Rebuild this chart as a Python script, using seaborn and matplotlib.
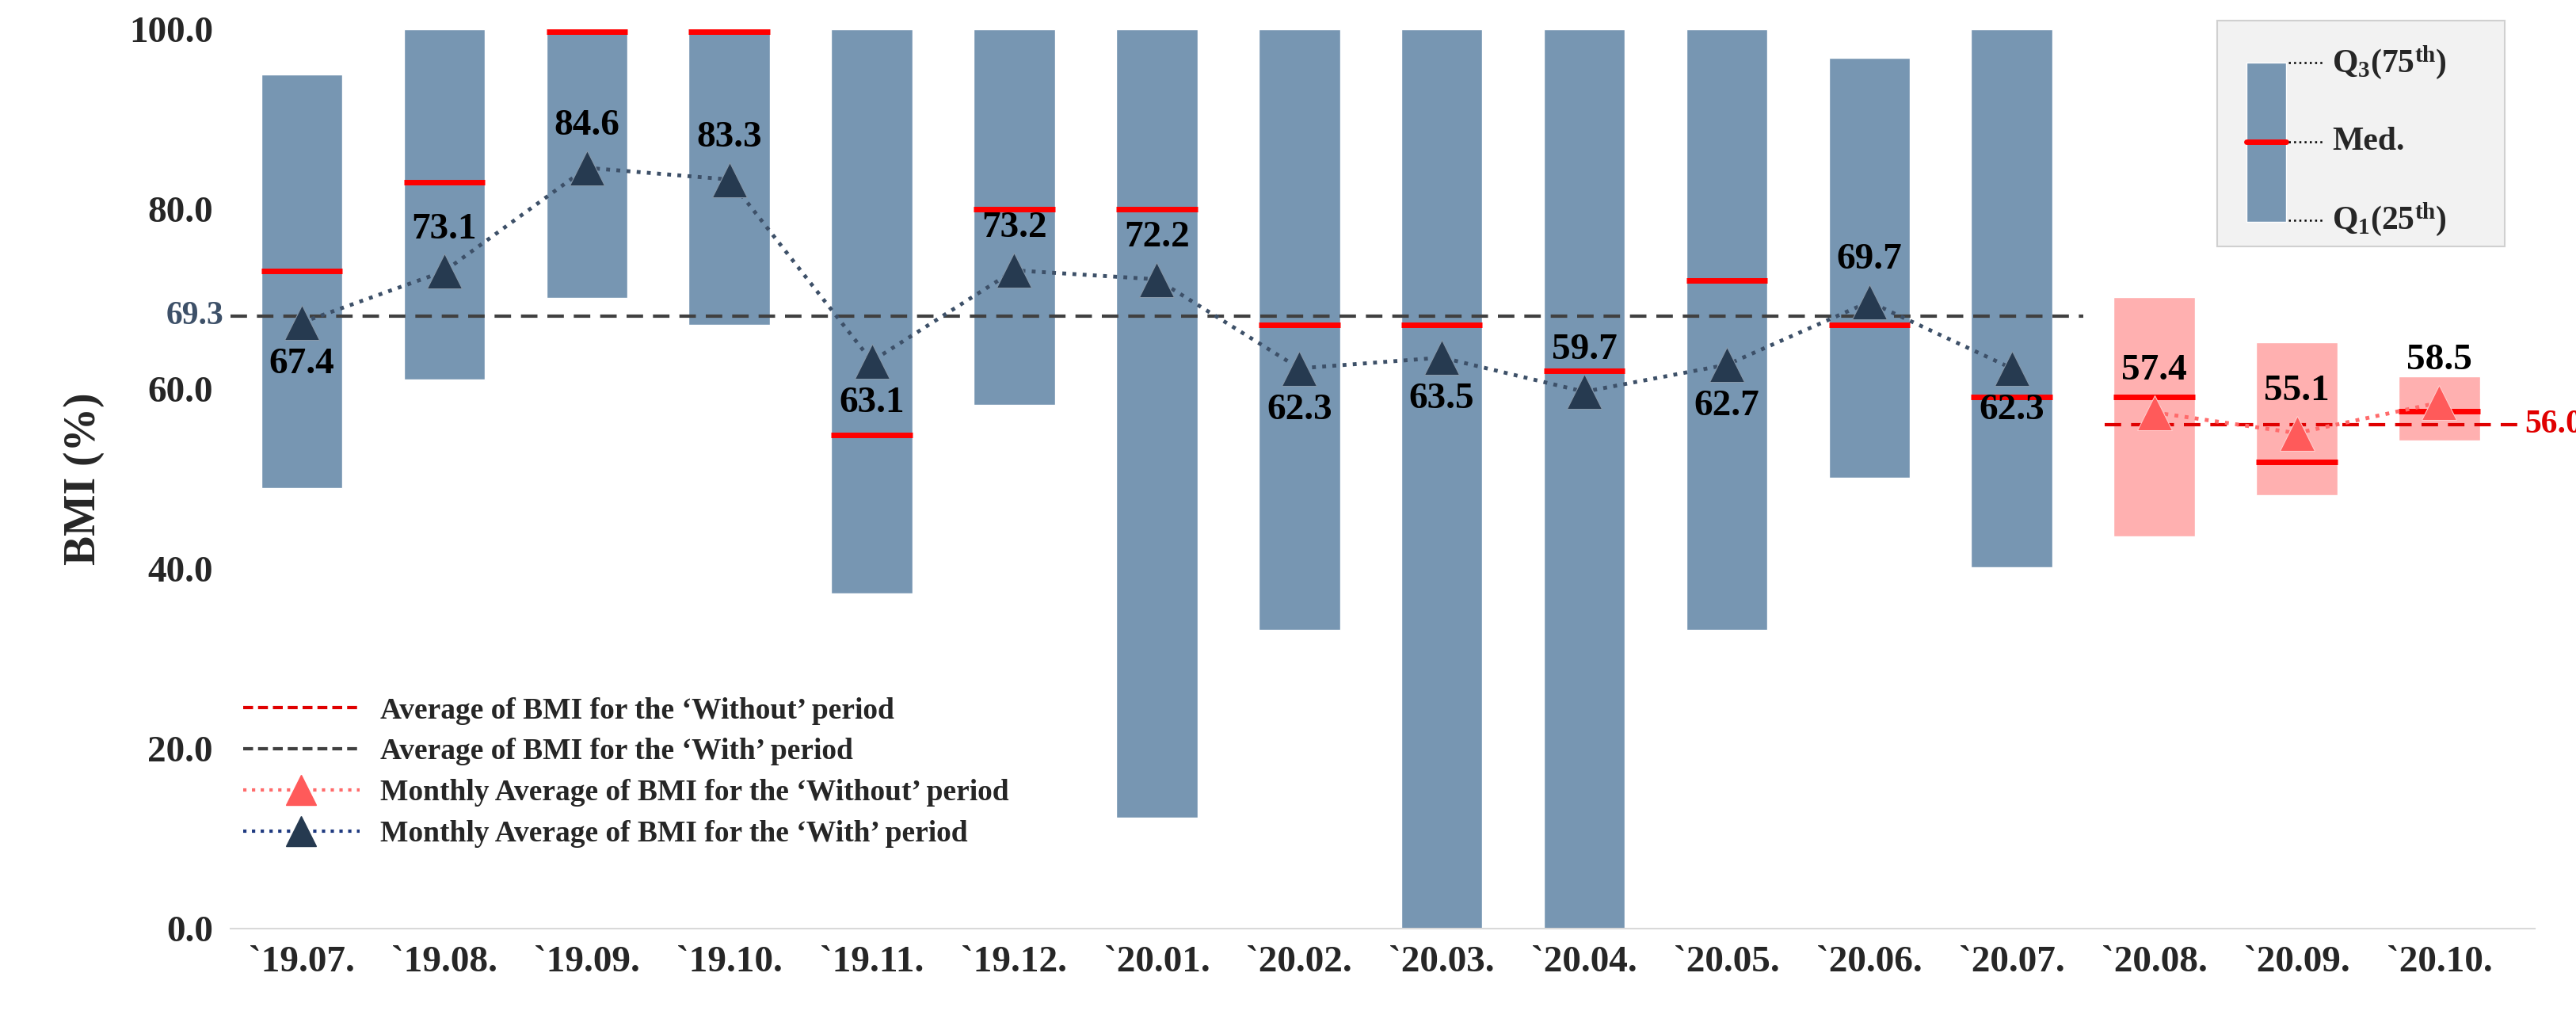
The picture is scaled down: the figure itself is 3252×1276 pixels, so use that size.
import numpy as np
import pandas as pd
import matplotlib
matplotlib.use("Agg")
import matplotlib.pyplot as plt
import seaborn as sns
from matplotlib.lines import Line2D
from matplotlib.patches import Rectangle

# data
months = ["`19.07.", "`19.08.", "`19.09.", "`19.10.", "`19.11.", "`19.12.", "`20.01.", "`20.02.",
          "`20.03.", "`20.04.", "`20.05.", "`20.06.", "`20.07.", "`20.08.", "`20.09.", "`20.10."]
q1 = [49.0, 61.1, 70.1, 67.1, 37.3, 58.2, 12.3, 33.2, 0.0, 0.0, 33.2, 50.1, 40.2, 43.6, 48.2, 54.3]
q3 = [95.0, 100, 100, 100, 100, 100, 100, 100, 100, 100, 100, 96.8, 100, 70.2, 65.2, 61.4]
med = [73.1, 83.0, 99.7, 99.7, 54.9, 80.0, 80.0, 67.1, 67.1, 62.0, 72.1, 67.1, 59.1, 59.1, 51.9, 57.5]
means = [67.4, 73.1, 84.6, 83.3, 63.1, 73.2, 72.2, 62.3, 63.5, 59.7, 62.7, 69.7, 62.3, 57.4, 55.1, 58.5]
label_above = [False, True, True, True, False, True, True, False, False, True, False, True, False, True, True, True]
n_with = 13
avg_with = 69.3
avg_with_drawn = 68.1
avg_without = 56.0

sns.set_theme(style="white")
plt.rcParams['font.family'] = ['Liberation Serif', 'DejaVu Serif']
plt.rcParams['font.weight'] = 'bold'
plt.rcParams['axes.labelweight'] = 'bold'
plt.rcParams['mathtext.fontset'] = 'custom'
plt.rcParams['mathtext.rm'] = 'Liberation Serif:bold'
plt.rcParams['mathtext.it'] = 'Liberation Serif:bold'

BLUE = '#7796b2'
PINK = '#ffb0b0'
DARK = '#263a50'
RED_TRI = '#ff5a5a'

fig = plt.figure(figsize=(32.52, 12.76), dpi=100)
ax = fig.add_axes([0.0895, 0.0815, 0.8945, 0.8895])

x = np.arange(len(months))
colors = [BLUE] * n_with + [PINK] * (len(months) - n_with)
ax.bar(x, np.array(q3) - np.array(q1), bottom=q1, width=0.57, color=colors, zorder=1)
ax.hlines(med, x - 0.285, x + 0.285, color='#ff0000', lw=5, zorder=2)

# average lines
ax.plot([-0.5, 12.5], [avg_with_drawn, avg_with_drawn], ls=(0, (5, 3)), color='#404040', lw=3, zorder=3)
ax.plot([12.65, 15.57], [avg_without, avg_without], ls=(0, (5, 3)), color='#e00000', lw=3, zorder=3)
ax.text(-0.55, avg_with_drawn, f"{avg_with:.1f}", ha='right', va='center', fontsize=30, color='#3d5068')
ax.text(15.6, avg_without, f"{avg_without:.1f}", ha='left', va='center', fontsize=30, color='#e00000')

df = pd.DataFrame({'x': x, 'mean': means})
sns.lineplot(data=df.iloc[:n_with], x='x', y='mean', ax=ax, color='#3d5068', ls=':', lw=3.5,
             marker='^', markersize=32, markerfacecolor=DARK, markeredgecolor='#8899aa', zorder=5)
sns.lineplot(data=df.iloc[n_with:], x='x', y='mean', ax=ax, color='#ff6b6b', ls=':', lw=3.5,
             marker='^', markersize=32, markerfacecolor=RED_TRI, markeredgecolor='#ffcccc', zorder=5)

for xi, m, up in zip(x, means, label_above):
    ax.text(xi, m + (2.8 if up else -2.8), f"{m:.1f}", ha='center', va='bottom' if up else 'top',
            fontsize=34, color='black', zorder=6)

ax.set_xlim(-0.5, 15.67)
ax.set_ylim(0, 100)
ax.set_xticks(x)
ax.set_xticklabels(months, fontsize=34)
ax.set_yticks([0, 20, 40, 60, 80, 100])
ax.set_yticklabels([f"{v:.1f}" for v in [0, 20, 40, 60, 80, 100]], fontsize=34)
ax.tick_params(axis='both', length=0, pad=16)
ax.set_xlabel('')
ax.set_ylabel('BMI (%)', fontsize=40, fontweight='bold', labelpad=22)
for s in ['top', 'right', 'left']:
    ax.spines[s].set_visible(False)
ax.spines['bottom'].set_color('#d9d9d9')
ax.spines['bottom'].set_linewidth(1.5)

handles = [
    Line2D([], [], color='#e00000', ls=(0, (3, 1.5)), lw=3),
    Line2D([], [], color='#404040', ls=(0, (3, 1.5)), lw=3),
    Line2D([], [], color='#ff6b6b', ls=':', lw=3, marker='^', markersize=28, markerfacecolor=RED_TRI, markeredgecolor=RED_TRI),
    Line2D([], [], color='#1f3a80', ls=':', lw=3, marker='^', markersize=28, markerfacecolor=DARK, markeredgecolor=DARK),
]
labels = ["Average of BMI for the \u2018Without\u2019 period",
          "Average of BMI for the \u2018With\u2019 period",
          "Monthly Average of BMI for the \u2018Without\u2019 period",
          "Monthly Average of BMI for the \u2018With\u2019 period"]
ax.legend(handles, labels, loc='lower left', bbox_to_anchor=(-0.006, 0.06), frameon=False,
          fontsize=27, handlelength=3.9, labelspacing=0.45, handletextpad=0.7)

# quartile key box (upper right)
ax.add_patch(Rectangle((0.862, 0.759), 0.125, 0.251, transform=ax.transAxes, facecolor='#f2f2f2',
                       edgecolor='#d0d0d0', lw=1.5, zorder=7, clip_on=False))
ax.add_patch(Rectangle((0.875, 0.786), 0.017, 0.177, transform=ax.transAxes, facecolor=BLUE,
                       zorder=8, clip_on=False))
ax.plot([0.875, 0.892], [0.875, 0.875], transform=ax.transAxes, color='#ff0000', lw=5, zorder=9, clip_on=False)
for yy, txt in [(0.963, r'$\mathrm{Q_3(75^{th})}$'), (0.875, 'Med.'), (0.788, r'$\mathrm{Q_1(25^{th})}$')]:
    ax.plot([0.893, 0.909], [yy, yy], transform=ax.transAxes, color='black', ls=':', lw=1.8, zorder=9, clip_on=False)
    ax.text(0.912, yy, txt, transform=ax.transAxes, ha='left', va='center', fontsize=30, zorder=9)

fig.savefig('out.png', dpi=100)
